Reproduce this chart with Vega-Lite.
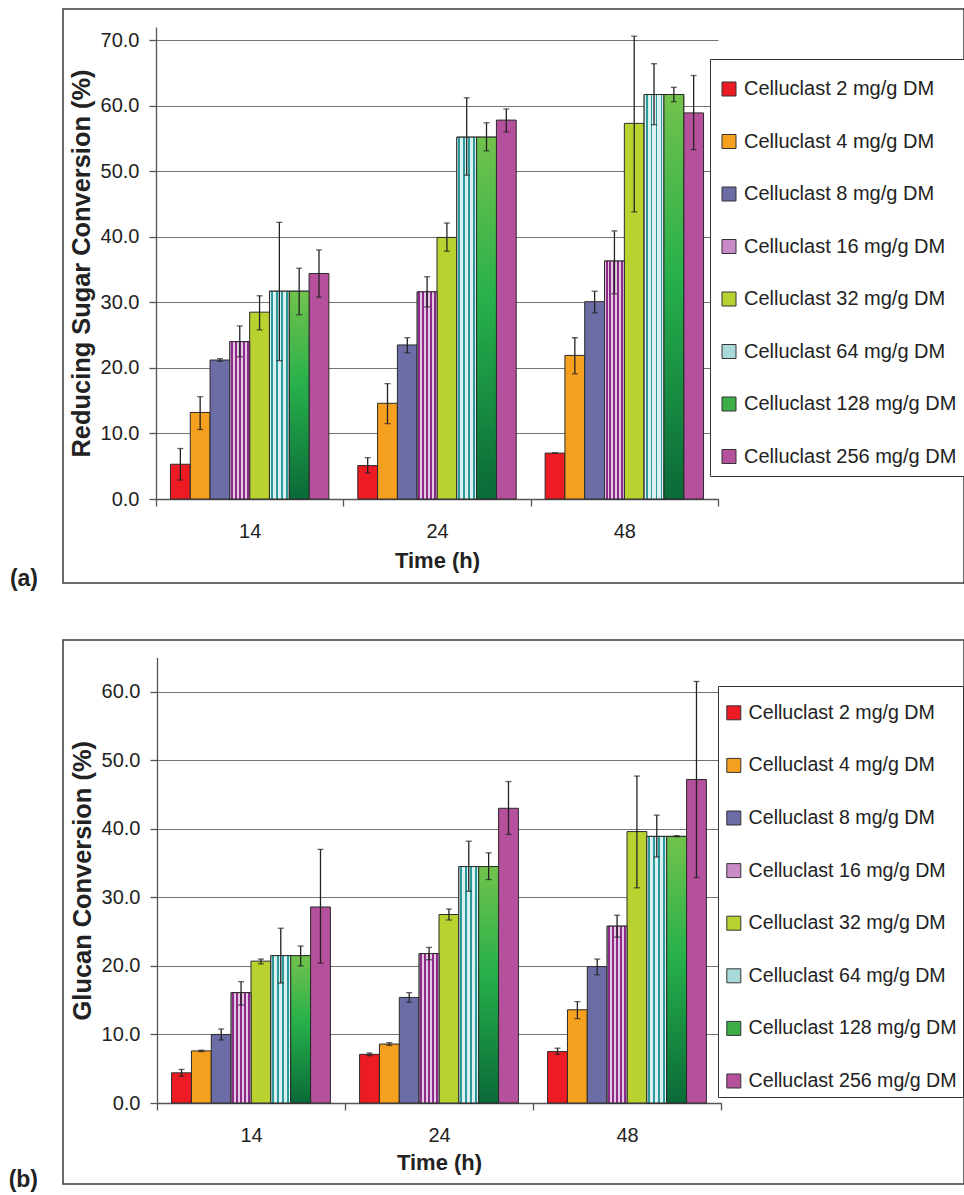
{
  "$schema": "https://vega.github.io/schema/vega-lite/v6.json",
  "background": "white",
  "padding": {"left": 7, "top": 8, "right": 1, "bottom": 0},
  "autosize": {"type": "pad"},
  "config": {
    "font": "Liberation Sans",
    "view": {"stroke": "#3a3a3a", "strokeWidth": 1.5},
    "axis": {"labelFont": "Liberation Sans", "titleFont": "Liberation Sans", "labelColor": "#222", "titleColor": "#222", "domainColor": "#555", "tickColor": "#555", "domainWidth": 1.3, "tickWidth": 1.3, "labelFontSize": 20},
    "legend": {"orient": "none", "strokeColor": "#333", "fillColor": "white", "padding": 9, "labelFont": "Liberation Sans", "labelFontSize": 20, "labelColor": "#222", "labelLimit": 400, "symbolType": "square", "symbolSize": 196, "symbolStrokeColor": "#333", "symbolStrokeWidth": 1, "rowPadding": 32.5, "labelOffset": 5, "titleFontSize": 9, "titlePadding": 2},
    "title": {"font": "Liberation Sans", "color": "#222"}
  },
  "datasets": {
    "a": [
      {"time": "14", "dose": "Celluclast 2 mg/g DM", "value": 5.3, "lo": 2.9, "hi": 7.7},
      {"time": "14", "dose": "Celluclast 4 mg/g DM", "value": 13.2, "lo": 10.6, "hi": 15.6},
      {"time": "14", "dose": "Celluclast 8 mg/g DM", "value": 21.2, "lo": 21.0, "hi": 21.4},
      {"time": "14", "dose": "Celluclast 16 mg/g DM", "value": 24.0, "lo": 21.7, "hi": 26.4},
      {"time": "14", "dose": "Celluclast 32 mg/g DM", "value": 28.5, "lo": 25.8, "hi": 31.0},
      {"time": "14", "dose": "Celluclast 64 mg/g DM", "value": 31.7, "lo": 21.1, "hi": 42.2},
      {"time": "14", "dose": "Celluclast 128 mg/g DM", "value": 31.7, "lo": 28.1, "hi": 35.2},
      {"time": "14", "dose": "Celluclast 256 mg/g DM", "value": 34.4, "lo": 30.8, "hi": 38.0},
      {"time": "24", "dose": "Celluclast 2 mg/g DM", "value": 5.1, "lo": 4.0, "hi": 6.3},
      {"time": "24", "dose": "Celluclast 4 mg/g DM", "value": 14.6, "lo": 11.5, "hi": 17.6},
      {"time": "24", "dose": "Celluclast 8 mg/g DM", "value": 23.5, "lo": 22.3, "hi": 24.6},
      {"time": "24", "dose": "Celluclast 16 mg/g DM", "value": 31.6, "lo": 29.3, "hi": 33.9},
      {"time": "24", "dose": "Celluclast 32 mg/g DM", "value": 39.9, "lo": 37.8, "hi": 42.1},
      {"time": "24", "dose": "Celluclast 64 mg/g DM", "value": 55.2, "lo": 49.4, "hi": 61.2},
      {"time": "24", "dose": "Celluclast 128 mg/g DM", "value": 55.2, "lo": 53.1, "hi": 57.4},
      {"time": "24", "dose": "Celluclast 256 mg/g DM", "value": 57.8, "lo": 56.0, "hi": 59.5},
      {"time": "48", "dose": "Celluclast 2 mg/g DM", "value": 7.0, "lo": 7.0, "hi": 7.0},
      {"time": "48", "dose": "Celluclast 4 mg/g DM", "value": 21.9, "lo": 19.1, "hi": 24.6},
      {"time": "48", "dose": "Celluclast 8 mg/g DM", "value": 30.1, "lo": 28.4, "hi": 31.7},
      {"time": "48", "dose": "Celluclast 16 mg/g DM", "value": 36.3, "lo": 31.3, "hi": 40.9},
      {"time": "48", "dose": "Celluclast 32 mg/g DM", "value": 57.3, "lo": 43.8, "hi": 70.6},
      {"time": "48", "dose": "Celluclast 64 mg/g DM", "value": 61.7, "lo": 57.1, "hi": 66.4},
      {"time": "48", "dose": "Celluclast 128 mg/g DM", "value": 61.7, "lo": 60.6, "hi": 62.8},
      {"time": "48", "dose": "Celluclast 256 mg/g DM", "value": 58.9, "lo": 53.3, "hi": 64.6}
    ],
    "b": [
      {"time": "14", "dose": "Celluclast 2 mg/g DM", "value": 4.4, "lo": 3.9, "hi": 4.9},
      {"time": "14", "dose": "Celluclast 4 mg/g DM", "value": 7.6, "lo": 7.5, "hi": 7.7},
      {"time": "14", "dose": "Celluclast 8 mg/g DM", "value": 10.0, "lo": 9.2, "hi": 10.8},
      {"time": "14", "dose": "Celluclast 16 mg/g DM", "value": 16.1, "lo": 14.3, "hi": 17.7},
      {"time": "14", "dose": "Celluclast 32 mg/g DM", "value": 20.7, "lo": 20.3, "hi": 21.0},
      {"time": "14", "dose": "Celluclast 64 mg/g DM", "value": 21.5, "lo": 17.5, "hi": 25.5},
      {"time": "14", "dose": "Celluclast 128 mg/g DM", "value": 21.5, "lo": 20.0, "hi": 22.9},
      {"time": "14", "dose": "Celluclast 256 mg/g DM", "value": 28.6, "lo": 20.4, "hi": 37.0},
      {"time": "24", "dose": "Celluclast 2 mg/g DM", "value": 7.1, "lo": 6.9, "hi": 7.3},
      {"time": "24", "dose": "Celluclast 4 mg/g DM", "value": 8.6, "lo": 8.4, "hi": 8.8},
      {"time": "24", "dose": "Celluclast 8 mg/g DM", "value": 15.4, "lo": 14.7, "hi": 16.1},
      {"time": "24", "dose": "Celluclast 16 mg/g DM", "value": 21.8, "lo": 20.9, "hi": 22.7},
      {"time": "24", "dose": "Celluclast 32 mg/g DM", "value": 27.5, "lo": 26.7, "hi": 28.3},
      {"time": "24", "dose": "Celluclast 64 mg/g DM", "value": 34.5, "lo": 30.9, "hi": 38.2},
      {"time": "24", "dose": "Celluclast 128 mg/g DM", "value": 34.5, "lo": 32.6, "hi": 36.5},
      {"time": "24", "dose": "Celluclast 256 mg/g DM", "value": 43.0, "lo": 39.2, "hi": 46.9},
      {"time": "48", "dose": "Celluclast 2 mg/g DM", "value": 7.5, "lo": 7.1, "hi": 8.0},
      {"time": "48", "dose": "Celluclast 4 mg/g DM", "value": 13.6, "lo": 12.3, "hi": 14.8},
      {"time": "48", "dose": "Celluclast 8 mg/g DM", "value": 19.9, "lo": 18.7, "hi": 21.0},
      {"time": "48", "dose": "Celluclast 16 mg/g DM", "value": 25.8, "lo": 24.2, "hi": 27.4},
      {"time": "48", "dose": "Celluclast 32 mg/g DM", "value": 39.6, "lo": 31.4, "hi": 47.7},
      {"time": "48", "dose": "Celluclast 64 mg/g DM", "value": 38.9, "lo": 35.9, "hi": 42.0},
      {"time": "48", "dose": "Celluclast 128 mg/g DM", "value": 38.9, "lo": 38.85, "hi": 39.0},
      {"time": "48", "dose": "Celluclast 256 mg/g DM", "value": 47.2, "lo": 32.9, "hi": 61.5}
    ]
  },
  "vconcat": [
    {
      "data": {"name": "a"},
      "width": 901,
      "height": 574,
      "title": {"text": "(a)", "orient": "left", "anchor": "start", "angle": 0, "align": "left", "baseline": "alphabetic", "fontSize": 23, "fontWeight": "bold", "offset": 25, "dy": 3},
      "encoding": {
        "x": {"field": "time", "type": "nominal", "scale": {"domain": ["14", "24", "48"], "range": [93, 655], "paddingInner": 0, "paddingOuter": 0},
          "axis": {"title": "Time (h)", "orient": "bottom", "offset": -84, "tickBand": "extent", "labelAngle": 0, "tickSize": 7, "labelPadding": 15, "titleFontSize": 22, "titleFontWeight": "bold", "titlePadding": 9, "grid": false}},
        "xOffset": {"field": "dose", "type": "nominal", "scale": {"domain": ["Celluclast 2 mg/g DM", "Celluclast 4 mg/g DM", "Celluclast 8 mg/g DM", "Celluclast 16 mg/g DM", "Celluclast 32 mg/g DM", "Celluclast 64 mg/g DM", "Celluclast 128 mg/g DM", "Celluclast 256 mg/g DM"], "paddingInner": 0, "paddingOuter": 0.73}}
      },
      "layer": [
        {
          "mark": {"type": "bar", "stroke": "#2b2b2b", "strokeWidth": 1},
          "encoding": {
            "y": {"field": "value", "type": "quantitative", "scale": {"domain": [0, 72], "range": [490, 18], "nice": false},
              "axis": {"title": "Reducing Sugar Conversion (%)", "values": [0, 10, 20, 30, 40, 50, 60, 70], "format": ".1f", "offset": -93, "tickSize": 7, "labelPadding": 10, "grid": true, "gridColor": "#737373", "gridWidth": 1.2, "titleFontSize": 25.4, "titleFontWeight": "bold", "titlePadding": 6}},
            "color": {"field": "dose", "type": "nominal",
              "scale": {"domain": ["Celluclast 2 mg/g DM", "Celluclast 4 mg/g DM", "Celluclast 8 mg/g DM", "Celluclast 16 mg/g DM", "Celluclast 32 mg/g DM", "Celluclast 64 mg/g DM", "Celluclast 128 mg/g DM", "Celluclast 256 mg/g DM"],
                "range": ["#ED1C24", "#F6A020", "#6C6DA7", "#C98BC7", "#B9D230", "#A9D9D8", "#3DAD48", "#B5519C"]},
              "legend": {"title": " ", "legendX": 647, "legendY": 50}}
          }
        },
        {
          "transform": [{"filter": "datum.dose === 'Celluclast 16 mg/g DM'"}],
          "mark": {"type": "bar", "stroke": "#2b2b2b", "strokeWidth": 1,
            "color": {"gradient": "linear", "x1": 0, "y1": 0, "x2": 1, "y2": 0, "stops": [
              {"offset": 0, "color": "#E3CAE2"}, {"offset": 0.05, "color": "#E3CAE2"}, {"offset": 0.05, "color": "#8E2A8C"}, {"offset": 0.15, "color": "#8E2A8C"}, {"offset": 0.15, "color": "#E3CAE2"},
              {"offset": 0.25, "color": "#E3CAE2"}, {"offset": 0.25, "color": "#8E2A8C"}, {"offset": 0.35, "color": "#8E2A8C"}, {"offset": 0.35, "color": "#E3CAE2"},
              {"offset": 0.45, "color": "#E3CAE2"}, {"offset": 0.45, "color": "#8E2A8C"}, {"offset": 0.55, "color": "#8E2A8C"}, {"offset": 0.55, "color": "#E3CAE2"},
              {"offset": 0.65, "color": "#E3CAE2"}, {"offset": 0.65, "color": "#8E2A8C"}, {"offset": 0.75, "color": "#8E2A8C"}, {"offset": 0.75, "color": "#E3CAE2"},
              {"offset": 0.85, "color": "#E3CAE2"}, {"offset": 0.85, "color": "#8E2A8C"}, {"offset": 0.95, "color": "#8E2A8C"}, {"offset": 0.95, "color": "#E3CAE2"}, {"offset": 1, "color": "#E3CAE2"}]}},
          "encoding": {"y": {"field": "value", "type": "quantitative"}}
        },
        {
          "transform": [{"filter": "datum.dose === 'Celluclast 64 mg/g DM'"}],
          "mark": {"type": "bar", "stroke": "#2b2b2b", "strokeWidth": 1,
            "color": {"gradient": "linear", "x1": 0, "y1": 0, "x2": 1, "y2": 0, "stops": [
              {"offset": 0, "color": "#DCF0EF"}, {"offset": 0.08, "color": "#DCF0EF"}, {"offset": 0.08, "color": "#2A9A9A"}, {"offset": 0.17, "color": "#2A9A9A"}, {"offset": 0.17, "color": "#DCF0EF"},
              {"offset": 0.33, "color": "#DCF0EF"}, {"offset": 0.33, "color": "#2A9A9A"}, {"offset": 0.42, "color": "#2A9A9A"}, {"offset": 0.42, "color": "#DCF0EF"},
              {"offset": 0.58, "color": "#DCF0EF"}, {"offset": 0.58, "color": "#2A9A9A"}, {"offset": 0.67, "color": "#2A9A9A"}, {"offset": 0.67, "color": "#DCF0EF"},
              {"offset": 0.83, "color": "#DCF0EF"}, {"offset": 0.83, "color": "#2A9A9A"}, {"offset": 0.92, "color": "#2A9A9A"}, {"offset": 0.92, "color": "#DCF0EF"}, {"offset": 1, "color": "#DCF0EF"}]}},
          "encoding": {"y": {"field": "value", "type": "quantitative"}}
        },
        {
          "transform": [{"filter": "datum.dose === 'Celluclast 128 mg/g DM'"}],
          "mark": {"type": "bar", "stroke": "#2b2b2b", "strokeWidth": 1,
            "color": {"gradient": "linear", "x1": 0, "y1": 0, "x2": 0, "y2": 1, "stops": [{"offset": 0, "color": "#72C24C"}, {"offset": 0.45, "color": "#27B04B"}, {"offset": 1, "color": "#0A6A38"}]}},
          "encoding": {"y": {"field": "value", "type": "quantitative"}}
        },
        {
          "mark": {"type": "rule", "color": "#222", "strokeWidth": 1.3},
          "encoding": {"y": {"field": "lo", "type": "quantitative"}, "y2": {"field": "hi"}}
        },
        {
          "mark": {"type": "tick", "color": "#222", "thickness": 1.3, "size": 6},
          "encoding": {"y": {"field": "lo", "type": "quantitative"}}
        },
        {
          "mark": {"type": "tick", "color": "#222", "thickness": 1.3, "size": 6},
          "encoding": {"y": {"field": "hi", "type": "quantitative"}}
        }
      ]
    },
    {
      "data": {"name": "b"},
      "width": 901,
      "height": 544,
      "title": {"text": "(b)", "orient": "left", "anchor": "start", "angle": 0, "align": "left", "baseline": "alphabetic", "fontSize": 23, "fontWeight": "bold", "offset": 25, "dy": 3},
      "encoding": {
        "x": {"field": "time", "type": "nominal", "scale": {"domain": ["14", "24", "48"], "range": [94, 658], "paddingInner": 0, "paddingOuter": 0},
          "axis": {"title": "Time (h)", "orient": "bottom", "offset": -81, "tickBand": "extent", "labelAngle": 0, "tickSize": 7, "labelPadding": 15, "titleFontSize": 22, "titleFontWeight": "bold", "titlePadding": 7, "grid": false}},
        "xOffset": {"field": "dose", "type": "nominal", "scale": {"domain": ["Celluclast 2 mg/g DM", "Celluclast 4 mg/g DM", "Celluclast 8 mg/g DM", "Celluclast 16 mg/g DM", "Celluclast 32 mg/g DM", "Celluclast 64 mg/g DM", "Celluclast 128 mg/g DM", "Celluclast 256 mg/g DM"], "paddingInner": 0, "paddingOuter": 0.735}}
      },
      "layer": [
        {
          "mark": {"type": "bar", "stroke": "#2b2b2b", "strokeWidth": 1},
          "encoding": {
            "y": {"field": "value", "type": "quantitative", "scale": {"domain": [0, 65], "range": [463, 17.5], "nice": false},
              "axis": {"title": "Glucan Conversion (%)", "values": [0, 10, 20, 30, 40, 50, 60], "format": ".1f", "offset": -94, "tickSize": 7, "labelPadding": 10, "grid": true, "gridColor": "#737373", "gridWidth": 1.2, "titleFontSize": 25.4, "titleFontWeight": "bold", "titlePadding": 6}},
            "color": {"field": "dose", "type": "nominal",
              "scale": {"domain": ["Celluclast 2 mg/g DM", "Celluclast 4 mg/g DM", "Celluclast 8 mg/g DM", "Celluclast 16 mg/g DM", "Celluclast 32 mg/g DM", "Celluclast 64 mg/g DM", "Celluclast 128 mg/g DM", "Celluclast 256 mg/g DM"],
                "range": ["#ED1C24", "#F6A020", "#6C6DA7", "#C98BC7", "#B9D230", "#A9D9D8", "#3DAD48", "#B5519C"]},
              "legend": {"title": " ", "legendX": 655, "legendY": 46, "padding": 6, "labelFontSize": 19.6, "rowPadding": 31.6}}
          }
        },
        {
          "transform": [{"filter": "datum.dose === 'Celluclast 16 mg/g DM'"}],
          "mark": {"type": "bar", "stroke": "#2b2b2b", "strokeWidth": 1,
            "color": {"gradient": "linear", "x1": 0, "y1": 0, "x2": 1, "y2": 0, "stops": [
              {"offset": 0, "color": "#E3CAE2"}, {"offset": 0.05, "color": "#E3CAE2"}, {"offset": 0.05, "color": "#8E2A8C"}, {"offset": 0.15, "color": "#8E2A8C"}, {"offset": 0.15, "color": "#E3CAE2"},
              {"offset": 0.25, "color": "#E3CAE2"}, {"offset": 0.25, "color": "#8E2A8C"}, {"offset": 0.35, "color": "#8E2A8C"}, {"offset": 0.35, "color": "#E3CAE2"},
              {"offset": 0.45, "color": "#E3CAE2"}, {"offset": 0.45, "color": "#8E2A8C"}, {"offset": 0.55, "color": "#8E2A8C"}, {"offset": 0.55, "color": "#E3CAE2"},
              {"offset": 0.65, "color": "#E3CAE2"}, {"offset": 0.65, "color": "#8E2A8C"}, {"offset": 0.75, "color": "#8E2A8C"}, {"offset": 0.75, "color": "#E3CAE2"},
              {"offset": 0.85, "color": "#E3CAE2"}, {"offset": 0.85, "color": "#8E2A8C"}, {"offset": 0.95, "color": "#8E2A8C"}, {"offset": 0.95, "color": "#E3CAE2"}, {"offset": 1, "color": "#E3CAE2"}]}},
          "encoding": {"y": {"field": "value", "type": "quantitative"}}
        },
        {
          "transform": [{"filter": "datum.dose === 'Celluclast 64 mg/g DM'"}],
          "mark": {"type": "bar", "stroke": "#2b2b2b", "strokeWidth": 1,
            "color": {"gradient": "linear", "x1": 0, "y1": 0, "x2": 1, "y2": 0, "stops": [
              {"offset": 0, "color": "#DCF0EF"}, {"offset": 0.08, "color": "#DCF0EF"}, {"offset": 0.08, "color": "#2A9A9A"}, {"offset": 0.17, "color": "#2A9A9A"}, {"offset": 0.17, "color": "#DCF0EF"},
              {"offset": 0.33, "color": "#DCF0EF"}, {"offset": 0.33, "color": "#2A9A9A"}, {"offset": 0.42, "color": "#2A9A9A"}, {"offset": 0.42, "color": "#DCF0EF"},
              {"offset": 0.58, "color": "#DCF0EF"}, {"offset": 0.58, "color": "#2A9A9A"}, {"offset": 0.67, "color": "#2A9A9A"}, {"offset": 0.67, "color": "#DCF0EF"},
              {"offset": 0.83, "color": "#DCF0EF"}, {"offset": 0.83, "color": "#2A9A9A"}, {"offset": 0.92, "color": "#2A9A9A"}, {"offset": 0.92, "color": "#DCF0EF"}, {"offset": 1, "color": "#DCF0EF"}]}},
          "encoding": {"y": {"field": "value", "type": "quantitative"}}
        },
        {
          "transform": [{"filter": "datum.dose === 'Celluclast 128 mg/g DM'"}],
          "mark": {"type": "bar", "stroke": "#2b2b2b", "strokeWidth": 1,
            "color": {"gradient": "linear", "x1": 0, "y1": 0, "x2": 0, "y2": 1, "stops": [{"offset": 0, "color": "#72C24C"}, {"offset": 0.45, "color": "#27B04B"}, {"offset": 1, "color": "#0A6A38"}]}},
          "encoding": {"y": {"field": "value", "type": "quantitative"}}
        },
        {
          "mark": {"type": "rule", "color": "#222", "strokeWidth": 1.3},
          "encoding": {"y": {"field": "lo", "type": "quantitative"}, "y2": {"field": "hi"}}
        },
        {
          "mark": {"type": "tick", "color": "#222", "thickness": 1.3, "size": 6},
          "encoding": {"y": {"field": "lo", "type": "quantitative"}}
        },
        {
          "mark": {"type": "tick", "color": "#222", "thickness": 1.3, "size": 6},
          "encoding": {"y": {"field": "hi", "type": "quantitative"}}
        }
      ]
    }
  ],
  "spacing": 57,
  "bounds": "flush",
  "resolve": {"scale": {"x": "independent", "y": "independent", "xOffset": "independent", "color": "independent"}, "legend": {"color": "independent"}}
}
